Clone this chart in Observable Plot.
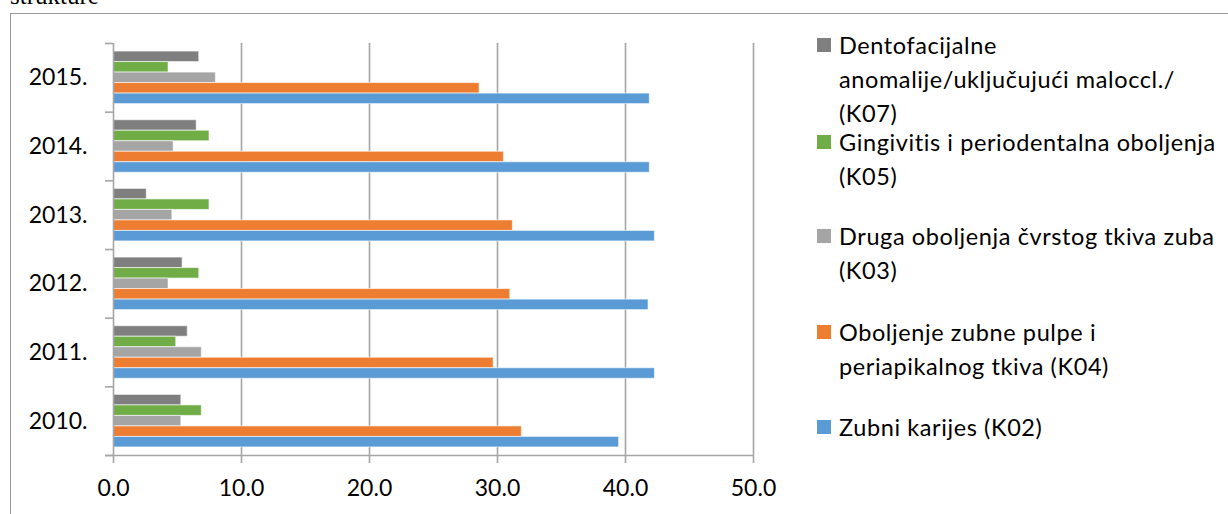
<!DOCTYPE html>
<html><head><meta charset="utf-8">
<script src="https://cdn.jsdelivr.net/npm/d3@7"></script>
<script src="https://cdn.jsdelivr.net/npm/@observablehq/plot@0.6"></script>
<style>
html,body{margin:0;padding:0;background:#fff;}
#wrap{position:relative;width:1228px;height:514px;overflow:hidden;font-family:Lato,"Open Sans",sans-serif;color:#000;}
#pre{position:absolute;left:10px;top:-17px;font:25px/25px "Liberation Serif",serif;white-space:nowrap;}
#box{position:absolute;left:10px;top:13px;width:1400px;height:700px;border-left:1px solid #999;border-top:1px solid #999;}
#chart{position:absolute;left:0;top:0;}
.leg{position:absolute;left:817px;font-size:23.5px;line-height:34px;letter-spacing:0.6px;}
.leg .sw{position:absolute;left:0;top:10px;width:14px;height:14px;}
.leg .tx{position:absolute;left:22px;top:0;white-space:nowrap;}
</style></head>
<body>
<div id="wrap">
  <div id="pre">strukture</div>
  <div id="box"></div>
  <div id="chart"></div>
  <div id="legend"></div>
</div>
<script>
// ---- data ----
const years = ["2015.", "2014.", "2013.", "2012.", "2011.", "2010."]; // top to bottom
const seriesNames = [
  "Dentofacijalne anomalije/uključujući maloccl./ (K07)",
  "Gingivitis i periodentalna oboljenja (K05)",
  "Druga oboljenja čvrstog tkiva zuba (K03)",
  "Oboljenje zubne pulpe i periapikalnog tkiva (K04)",
  "Zubni karijes (K02)"
];
const legendLines = [
  ["Dentofacijalne", "anomalije/uključujući maloccl./", "(K07)"],
  ["Gingivitis i periodentalna oboljenja", "(K05)"],
  ["Druga oboljenja čvrstog tkiva zuba", "(K03)"],
  ["Oboljenje zubne pulpe i", "periapikalnog tkiva (K04)"],
  ["Zubni karijes (K02)"]
];
const k07 = [6.7, 6.5, 2.6, 5.4, 5.8, 5.3];
const k05 = [4.3, 7.5, 7.5, 6.7, 4.9, 6.9];
const k03 = [8.0, 4.7, 4.6, 4.3, 6.9, 5.3];
const k04 = [28.6, 30.5, 31.2, 31.0, 29.7, 31.9];
const k02 = [41.9, 41.9, 42.3, 41.8, 42.3, 39.5];
const colors = ["#7f7f7f", "#70ad47", "#a5a5a5", "#ed7d31", "#5b9bd5"];
const xTicks = [0, 10, 20, 30, 40, 50];

// ---- table ----
const seriesValues = [k07, k05, k03, k04, k02];
const outerPad = 0.1175;
const barStep = (1 - 2 * outerPad) / seriesNames.length;
const rows = [];
years.forEach((yr, i) => {
  seriesNames.forEach((s, j) => {
    const y1 = i + outerPad + j * barStep;
    rows.push({year: yr, series: s, value: seriesValues[j][i], y1, y2: y1 + barStep});
  });
});

const gridColor = "#a6a6a6";
const chart = Plot.plot({
  width: 790,
  height: 514,
  marginLeft: 113,
  marginRight: 37,
  marginTop: 43,
  marginBottom: 59,
  style: {fontFamily: "Lato, 'Open Sans', sans-serif", fontSize: "23px", background: "transparent", color: "#000"},
  x: {domain: [0, 50], label: null},
  y: {domain: [0, years.length], reverse: true, label: null},
  color: {domain: seriesNames, range: colors},
  marks: [
    Plot.ruleX(xTicks.slice(1), {stroke: gridColor, strokeWidth: 1.6}),
    Plot.rect(rows, {x1: () => 0, x2: "value", y1: "y1", y2: "y2", fill: "series", stroke: "white", strokeOpacity: 0.6, strokeWidth: 1}),
    Plot.ruleX([0], {stroke: gridColor, strokeWidth: 1.6}),
    Plot.ruleY([years.length], {stroke: gridColor, strokeWidth: 1.6, insetLeft: -8}),
    Plot.axisX(xTicks, {tickSize: 8, tickPadding: 16, tickFormat: d3.format(".1f"), stroke: gridColor, strokeWidth: 1.6, fill: "#000", fontSize: 23, label: null}),
    Plot.axisY(d3.range(years.length + 1), {tickSize: 8, tickFormat: () => "", stroke: gridColor, strokeWidth: 1.6, label: null}),
    Plot.axisY(years.map((_, i) => i + 0.5), {tickSize: 0, tickPadding: 26, tickFormat: v => years[Math.floor(v)], fill: "#000", fontSize: 23, label: null})
  ]
});
document.getElementById("chart").appendChild(chart);

// ---- legend ----
const legend = document.getElementById("legend");
const itemTops = [28, 125, 219, 314.5, 410];
legendLines.forEach((lines, i) => {
  const item = document.createElement("div");
  item.className = "leg";
  item.style.top = itemTops[i] + "px";
  const sw = document.createElement("div");
  sw.className = "sw";
  sw.style.background = colors[i];
  item.appendChild(sw);
  const tx = document.createElement("div");
  tx.className = "tx";
  tx.innerHTML = lines.join("<br>");
  item.appendChild(tx);
  legend.appendChild(item);
});
</script>
</body></html>
